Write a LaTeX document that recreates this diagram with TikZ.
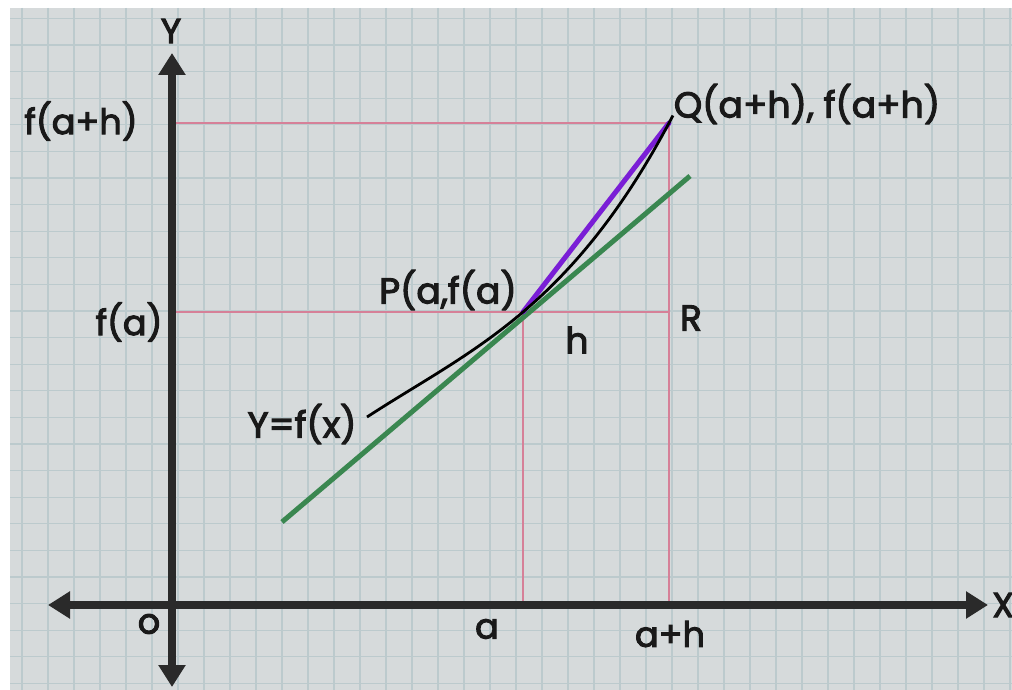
\documentclass[tikz,border=0pt]{standalone}
\usepackage{fontspec}
\setmainfont{Poppins}[FakeBold=3]
\usetikzlibrary{arrows.meta}
\definecolor{bgc}{RGB}{214,218,219}
\definecolor{gridc}{RGB}{188,202,205}
\definecolor{pinkc}{RGB}{214,128,152}
\definecolor{axisc}{RGB}{42,42,42}
\definecolor{purplec}{RGB}{122,30,214}
\definecolor{greenc}{RGB}{58,135,80}
\tikzset{
  axisline/.style={draw=axisc, line width=8pt, -{Triangle[length=22pt,width=26pt]}},
  guide/.style={draw=pinkc, line width=2.5pt},
  lbl/.style={font=\fontsize{35}{37}\selectfont, text=black!90, inner sep=0pt},
  lblbig/.style={font=\fontsize{36}{38}\selectfont, text=black!90, inner sep=0pt},
}
\begin{document}
\begin{tikzpicture}[x=1pt,y=-1pt]
\useasboundingbox (0,0) rectangle (1012,690);
\fill[white] (0,0) rectangle (1012,690);
\fill[bgc] (10,8) rectangle (1012,690);
% grid
\foreach \i in {0,...,38} {\draw[gridc, line width=1.3pt] ({22+26*\i},8) -- ({22+26*\i},690);}
\foreach \j in {0,...,25} {\draw[gridc, line width=1.3pt] (10,{18.4+26.6*\j}) -- (1012,{18.4+26.6*\j});}
% key points
\coordinate (O) at (172,605);
\coordinate (P) at (523,312);
\coordinate (Q) at (669,123);
\coordinate (R) at (669,312);
\coordinate (A) at (523,605);
\coordinate (AH) at (669,605);
\coordinate (FA) at (172,312);
\coordinate (FAH) at (172,123);
\coordinate (xl) at (48,605);
\coordinate (xr) at (988,605);
\coordinate (yt) at (172,53);
\coordinate (yb) at (172,687);
\coordinate (t1) at (282,522);
\coordinate (t2) at (690,176);
% guide lines
\draw[guide] (FAH) -- (Q) -- (AH);
\draw[guide] (FA) -- (R);
\draw[guide] (P) -- (A);
% axes
\draw[axisline] (O) -- (xr);
\draw[axisline] (O) -- (xl);
\draw[axisline] (O) -- (yt);
\draw[axisline] (O) -- (yb);
% tangent, chord, curve
\draw[greenc, line width=5pt] (t1) -- (t2);
\draw[purplec, line width=5pt, line cap=round] (P) -- (Q);
\draw[black, line width=2.8pt] plot[domain=-1.56:1.50, samples=80, smooth] ({523+100*\x},{312-(85*\x+21.21*\x*\x+6.33*\x*\x*\x)});
% labels
\node[lbl] (ly) at (171,31) {Y};
\node[lbl, anchor=west] (lx) at (992,605) {X};
\node[lbl] (lfah) at (81,121) {f(a+h)};
\node[lbl] (lfa) at (129,322) {f(a)};
\node[lbl] (lo) at (149,624) {o};
\node[lbl] (la) at (487,629) {a};
\node[lbl] (lah) at (670,634) {a+h};
\node[lblbig] (lr) at (691,318) {R};
\node[lblbig] (lh) at (577,340) {h};
\node[lblbig] (lp) at (448,290) {P(a,f(a)};
\node[lblbig] (lyf) at (302,424) {Y=f(x)};
\node[lblbig] (lq) at (807,104) {Q(a+h), f(a+h)};
\end{tikzpicture}
\end{document}
